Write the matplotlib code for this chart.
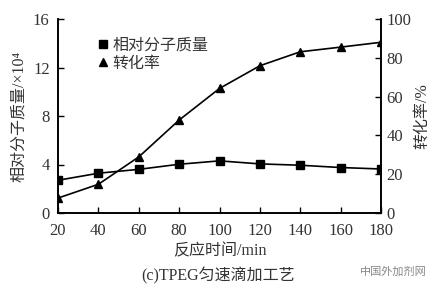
import matplotlib
matplotlib.use('Agg')
import matplotlib.pyplot as plt

# reaction time (min)
time = [20, 40, 60, 80, 100, 120, 140, 160, 180]
# relative molecular mass, x10^4
mol_mass = [2.7, 3.28, 3.6, 4.02, 4.3, 4.05, 3.94, 3.75, 3.63]
# conversion (%)
conversion = [7.7, 14.8, 28.9, 47.9, 64.2, 75.9, 83.1, 85.5, 88.0]

left_ticks = [0, 4, 8, 12, 16]
right_ticks = [0, 20, 40, 60, 80, 100]
x_ticks = [20, 40, 60, 80, 100, 120, 140, 160, 180]

fam = ['Liberation Serif', 'Noto Sans CJK SC']
plt.rcParams['font.family'] = fam
plt.rcParams['font.size'] = 10
txt = '#333333'

fig = plt.figure(figsize=(4.37, 2.91), dpi=100)
ax = fig.add_axes([58/437, 1 - 213/291, 323/437, 194/291])
ax2 = ax.twinx()

l1, = ax.plot(time, mol_mass, color='black', lw=1.2, marker='s', ms=6,
              label='相对分子质量')
l2, = ax2.plot(time, conversion, color='black', lw=1.2, marker='^', ms=6,
               label='转化率')

ax.set_xlim(20, 180)
ax.set_ylim(0, 16)
ax2.set_ylim(0, 100)
ax.set_xticks(x_ticks)
ax.set_yticks(left_ticks)
ax2.set_yticks(right_ticks)

for a in (ax, ax2):
    a.spines['top'].set_visible(False)
    a.tick_params(direction='in', length=4, width=1, colors='black',
                  labelcolor=txt, labelsize=12)
    for s in a.spines.values():
        s.set_linewidth(1.2)
ax.tick_params(axis='x', pad=7)
ax.tick_params(axis='y', pad=6)
ax2.tick_params(axis='y', pad=4)

ax.set_xlabel('反应时间/min', color=txt, fontsize=11.5, labelpad=3)
ax.set_ylabel('相对分子质量/×10⁴', color=txt, fontsize=11.5, labelpad=4)
ax2.set_ylabel('转化率/%', color=txt, fontsize=11.5, labelpad=2)

leg = ax.legend(handles=[l1, l2], loc='upper left', bbox_to_anchor=(0.08, 0.98),
                frameon=False, handlelength=0.6, handletextpad=0.3,
                labelspacing=0.15, fontsize=11.5)
for line in leg.get_lines():
    line.set_linestyle('none')
for t in leg.get_texts():
    t.set_color(txt)

fig.text(0.5, 1 - 276/291, '(c)TPEG匀速滴加工艺', ha='center', va='center',
         color=txt, fontsize=11.5)
fig.text(0.9, 1 - 272/291, '中国外加剂网', ha='center', va='center',
         color='#888888', fontsize=8, family=['Noto Sans CJK SC'])

fig.savefig('out.png', dpi=100)
